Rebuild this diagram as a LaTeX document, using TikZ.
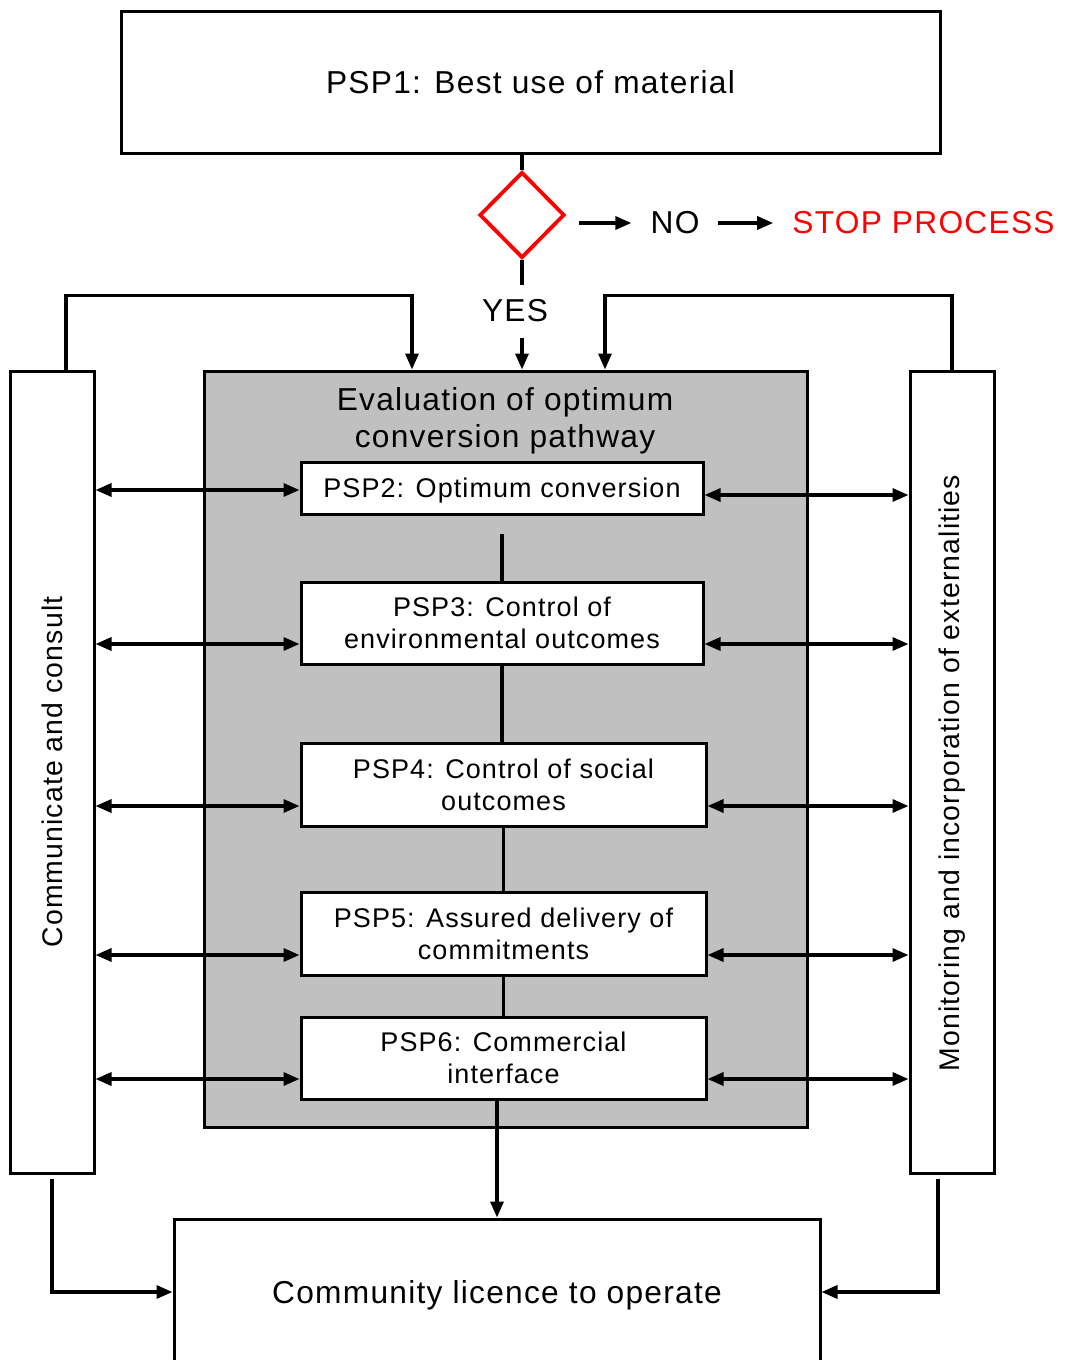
\documentclass[tikz,border=0pt]{standalone}
\usepackage{fontspec}
\setmainfont{Liberation Sans}[LetterSpace=4]
\usetikzlibrary{arrows.meta,shapes.geometric}
\definecolor{greyfill}{RGB}{192,192,192}
\begin{document}
\begin{tikzpicture}[x=1pt,y=-1pt,
 every node/.style={font=\fontsize{27}{32}\selectfont, align=center, inner sep=0pt},
 box/.style={draw, line width=3pt, fill=white},
 big/.style={font=\fontsize{31.7}{37}\selectfont},
 side/.style={font=\fontsize{28.4}{32}\selectfont},
 tip/.style={},
 arr/.style={line width=3.3pt, -{Triangle[length=16pt,width=13pt]}},
 darr/.style={line width=3.3pt, {Triangle[length=16pt,width=13pt]}-{Triangle[length=16pt,width=13pt]}},
 ln/.style={line width=3.3pt}]
\useasboundingbox (0,0) rectangle (1065,1360);

\node[box, big, minimum width=819pt, minimum height=142pt] (P1) at (530.5,82) {PSP1: Best use of material};
\node[draw=red, line width=3.8pt, diamond, minimum width=85pt, minimum height=86pt] (D) at (522,215) {};
\node[big] (NO) at (675,223) {NO};
\node[big, text=red] (SP) at (923.5,223) {STOP PROCESS};
\node[big] (Y) at (515,311) {YES};

\node[draw, line width=3pt, fill=greyfill, minimum width=603pt, minimum height=756pt] (G) at (505.5,749) {};
\node[big] (T) at (505,421) {Evaluation of optimum\\conversion pathway};

\node[box, text depth=0pt, minimum width=402pt, minimum height=52pt] (P2) at (502,488) {PSP2: Optimum conversion};
\node[box, minimum width=402pt, minimum height=82pt] (P3) at (502,623) {PSP3: Control of\\environmental outcomes};
\node[box, minimum width=405pt, minimum height=83pt] (P4) at (503.5,784.5) {PSP4: Control of social\\outcomes};
\node[box, minimum width=405pt, minimum height=83pt] (P5) at (503.5,933.5) {PSP5: Assured delivery of\\commitments};
\node[box, minimum width=405pt, minimum height=82pt] (P6) at (503.5,1058) {PSP6: Commercial\\interface};

\node[box, minimum width=84pt, minimum height=802pt] (L) at (52,772) {};
\node[side, rotate=90] (LT) at (52,772) {Communicate and consult};
\node[box, minimum width=84pt, minimum height=802pt] (R) at (952,772) {};
\node[side, rotate=90] (RT) at (952,773) {Monitoring and incorporation of externalities};

\node[box, big, text depth=0pt, minimum width=646pt, minimum height=146pt] (B) at (497,1292) {Community licence to operate};

% top flow
\draw[ln] (D.north |- P1.south) -- (D.north);
\draw[ln] (D.south) -- ++(0,25);
\draw[arr] (D.south |- 0,338) -- (D.south |- G.north);
\draw[arr] ([xshift=13pt]D.east |- NO.west) -- ([xshift=-19pt]NO.west);
\draw[arr] ([xshift=18pt]NO.east) -- ([xshift=-19pt]SP.west);

% feedback loops
\draw[arr] ([xshift=14pt]L.north) -- ++(0,-74) -| ([xshift=-93.5pt]G.north);
\draw[arr] (R.north) -- ++(0,-74) -| ([xshift=99.5pt]G.north);

% double arrows
\draw[darr] ([yshift=-2pt]P2.west -| L.east) -- ([yshift=-2pt]P2.west);
\draw[darr] ([yshift=-7pt]P2.east) -- ([yshift=-7pt]P2.east -| R.west);
\foreach \p/\s in {P3/-21pt,P4/-21.5pt,P5/-21.5pt,P6/-21pt}{
  \draw[darr] ([yshift=\s]\p.west -| L.east) -- ([yshift=\s]\p.west);
  \draw[darr] ([yshift=\s]\p.east) -- ([yshift=\s]\p.east -| R.west);
}

% chain
\draw[ln] ([yshift=-18pt]P2.south) -- (P2.south |- P3.north);
\draw[ln] (P3.south) -- (P3.south |- P4.north);
\draw[ln] (P4.south) -- (P4.south |- P5.north);
\draw[ln] (P5.south) -- (P5.south |- P6.north);
\draw[arr] (B.north |- P6.south) -- (B.north);

% exits
\draw[arr] ([yshift=-4pt]L.south) |- (B.west);
\draw[arr] ([xshift=-14pt,yshift=-4pt]R.south) |- (B.east);
\end{tikzpicture}
\end{document}
